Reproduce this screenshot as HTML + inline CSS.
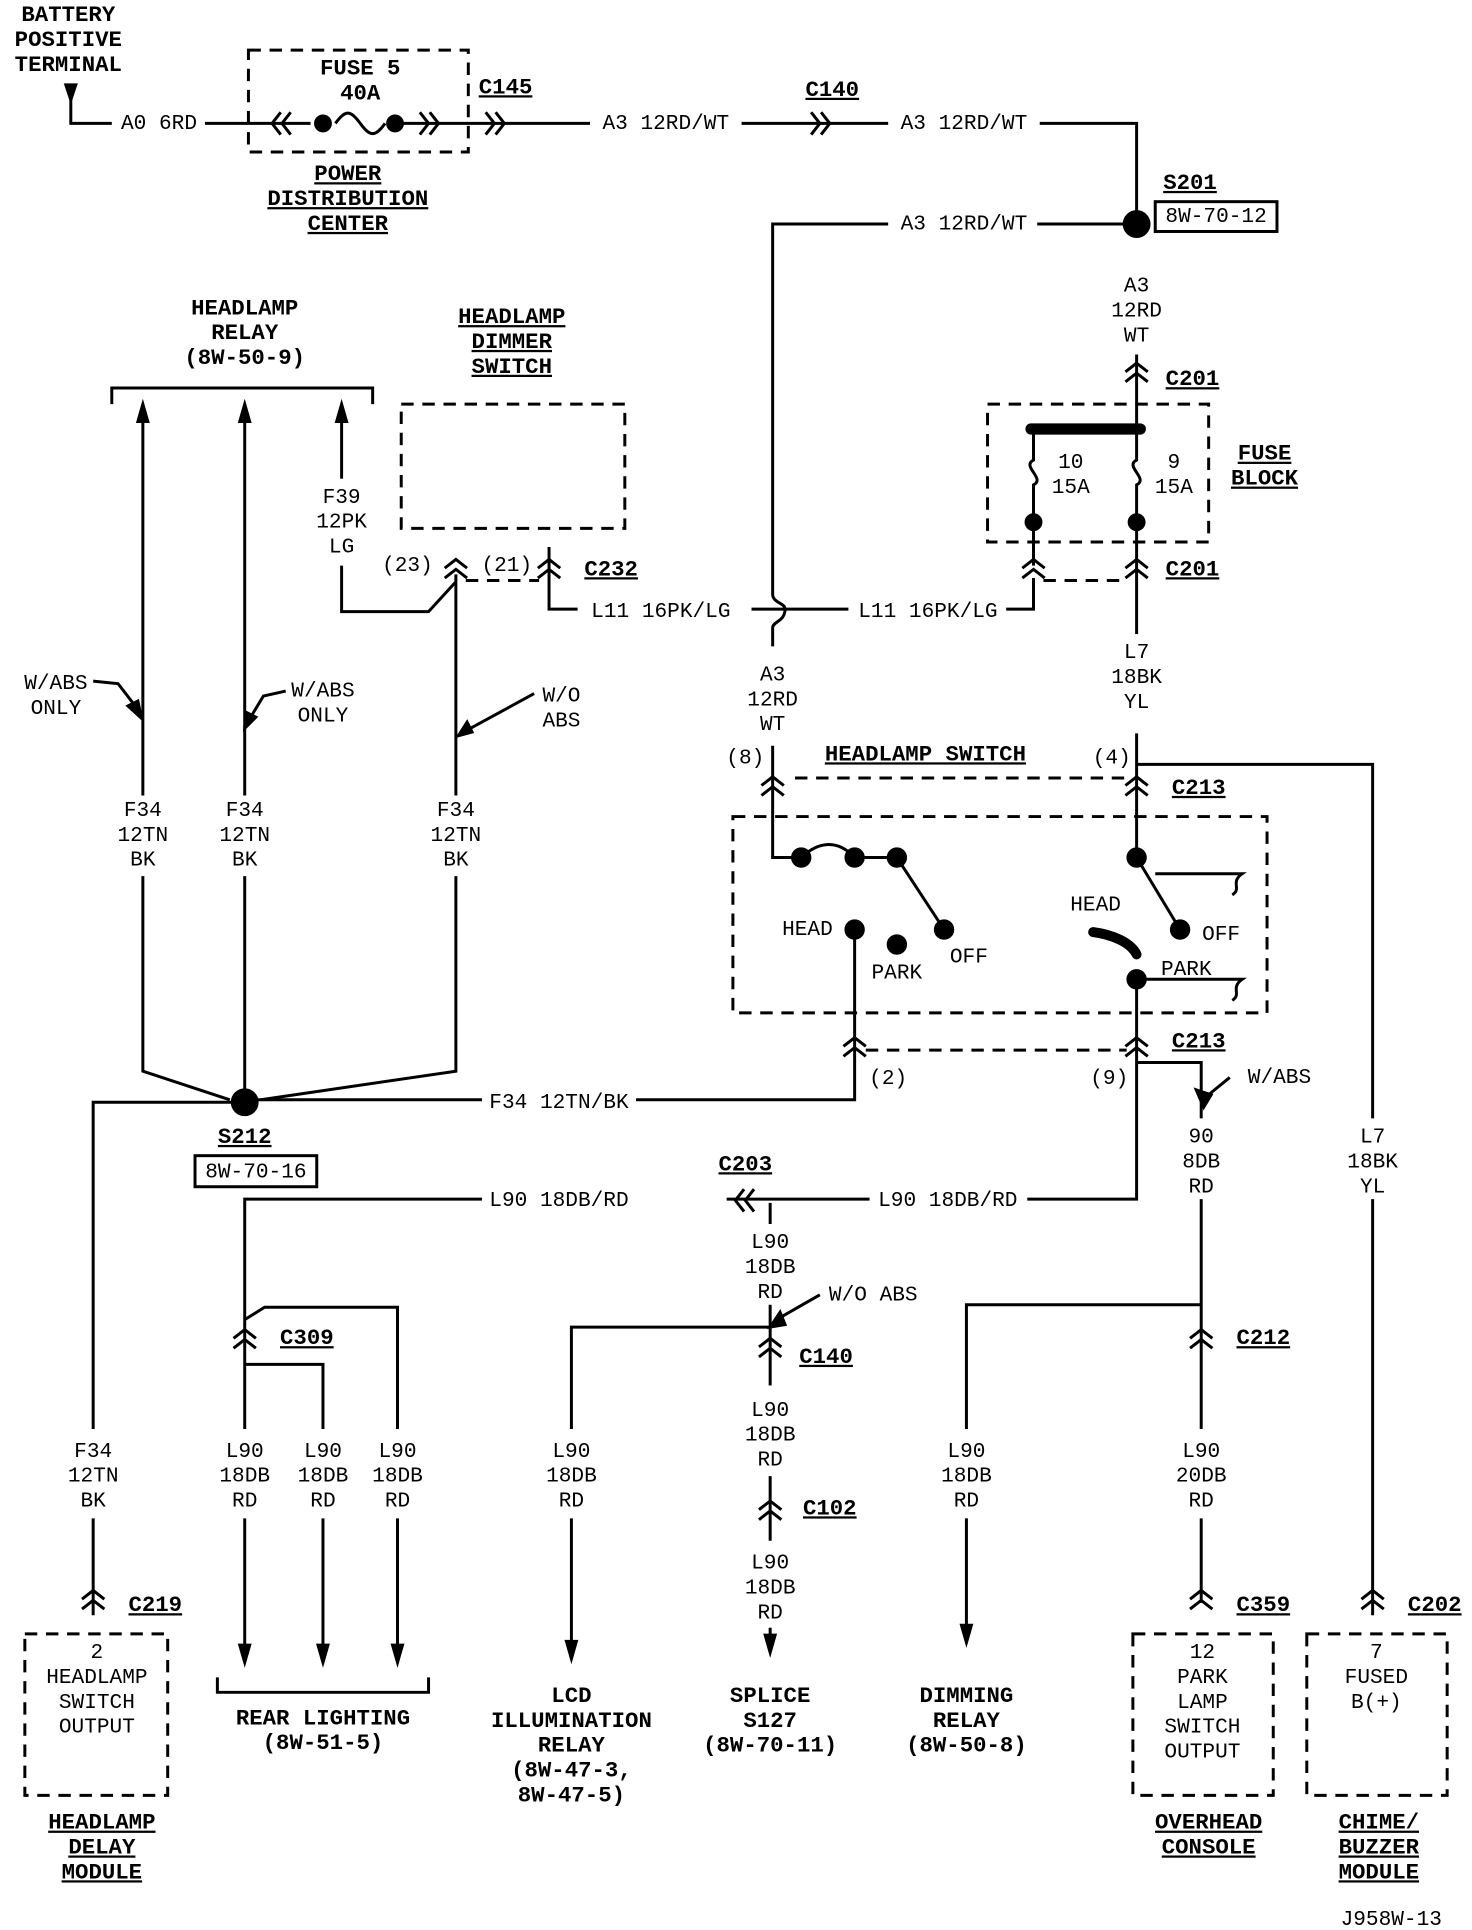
<!DOCTYPE html>
<html><head><meta charset="utf-8"><style>
html,body{margin:0;padding:0;background:#fff;width:1472px;height:1930px;overflow:hidden}
svg text{font-family:"Liberation Mono","DejaVu Sans Mono",monospace;font-size:17px;fill:#000;text-anchor:middle;dominant-baseline:middle}
.b{font-weight:bold;font-size:18px}
.u{text-decoration:underline}
</style></head><body>
<svg id="s" width="1472" height="1930" viewBox="0 0 1185 1553" xmlns="http://www.w3.org/2000/svg">
<g id="g" stroke="#000" stroke-width="2.4" fill="none"></g>
<g id="t"></g>
</svg>
<script>
const NS="http://www.w3.org/2000/svg",G=document.getElementById('g'),T=document.getElementById('t');
function el(p,tag,a){const e=document.createElementNS(NS,tag);for(const k in a)e.setAttribute(k,a[k]);p.appendChild(e);return e}
function P(d,extra){return el(G,'path',Object.assign({d:d},extra||{}))}
function dash(d){P(d,{'stroke-dasharray':'10,7'})}
function dot(x,y,r){el(G,'circle',{cx:x,cy:y,r:r||6,fill:'#000'})}
function tx(x,y,s,cls,anchor){const e=el(T,'text',{x:x,y:y});if(cls)e.setAttribute('class',cls);if(anchor)e.setAttribute('style','text-anchor:'+anchor);e.textContent=s;return e}
function stack(x,y,arr,cls){arr.forEach((s,i)=>tx(x,y+i*20,s,cls))}
function vc(x,y){P(`M${x-9},${y+2} L${x},${y-5} L${x+9},${y+2} M${x-9},${y+10} L${x},${y+3} L${x+9},${y+10}`)}
function hr(x,y){P(`M${x-7},${y-9} L${x},${y} L${x-7},${y+9} M${x+1},${y-9} L${x+8},${y} L${x+1},${y+9}`)}
function hl(x,y){P(`M${x+7},${y-9} L${x},${y} L${x+7},${y+9} M${x-1},${y-9} L${x-8},${y} L${x-1},${y+9}`)}
function arrUp(x,y){P(`M${x-4},${y+14} L${x},${y} L${x+4},${y+14} Z`,{fill:'#000'})}
function arrDn(x,y){P(`M${x-4},${y-14} L${x},${y} L${x+4},${y-14} Z`,{fill:'#000'})}

stack(55,12,['BATTERY','POSITIVE','TERMINAL'],'b');
P('M53,68 L57,80 L61,68 Z',{fill:'#000'});
P('M57,70 L57,99 L90,99');tx(128,99,'A0 6RD');
P('M165,99 L250,99');P('M270,99 C278,88 282,88 290,99 C298,110 302,110 310,99');P('M318,99 L475,99');
dash('M200,40 L377,40 L377,122 L200,122 Z');
tx(290,55,'FUSE 5','b');tx(290,75,'40A','b');
hl(227,99);dot(260,99);dot(318,99);hr(345,99);hr(398,99);
tx(407,70,'C145','b u');
stack(280,140,['POWER','DISTRIBUTION','CENTER'],'b u');
tx(536,99,'A3 12RD/WT');P('M597,99 L715,99');hr(660,99);tx(670,72,'C140','b u');
tx(776,99,'A3 12RD/WT');P('M837,99 L915,99 L915,180');
dot(915,180,10);tx(958,147,'S201','b u');el(G,'rect',{x:930,y:162,width:98,height:24});tx(979,174,'8W-70-12');
tx(776,180,'A3 12RD/WT');P('M835,180 L905,180');P('M715,180 L622,180 L622,478 C622,485 632,485 632,490 C632,500 622,500 622,505 L622,520');
stack(915,230,['A3','12RD','WT']);P('M915,285 L915,345');vc(915,297);tx(960,305,'C201','b u');
dash('M795,325 L973,325 L973,436 L795,436 Z');
P('M830,345 L918,345',{'stroke-width':9,'stroke-linecap':'round'});
P('M832,345 L832,370 C822,375 842,385 832,390 L832,455');
P('M915,345 L915,370 C905,375 925,385 915,390 L915,510');
stack(862,372,['10','15A']);stack(945,372,['9','15A']);dot(832,420);dot(915,420);
stack(1018,365,['FUSE','BLOCK'],'b u');
vc(832,455);vc(915,455);dash('M840,467 L907,467');tx(960,458,'C201','b u');
P('M832,465 L832,490 L810,490');tx(747,492,'L11 16PK/LG');P('M683,490 L605,490');tx(532,492,'L11 16PK/LG');P('M465,490 L442,490 L442,440');
stack(915,525,['L7','18BK','YL']);P('M915,590 L915,690');
stack(622,543,['A3','12RD','WT']);P('M622,600 L622,690 L645,690');
tx(600,610,'(8)');tx(895,610,'(4)');tx(745,607,'HEADLAMP SWITCH','b u');
vc(622,630);vc(915,630);dash('M640,626 L905,626');tx(965,634,'C213','b u');
P('M915,615 L1105,615 L1105,900');stack(1105,915,['L7','18BK','YL']);P('M1105,965 L1105,1300');vc(1105,1285);tx(1155,1292,'C202','b u');
dash('M590,657 L1020,657 L1020,815 L590,815 Z');
P('M645,690 C660,676 675,676 688,690 L722,690 L760,748');dot(645,690,7);dot(688,690,7);dot(722,690,7);dot(760,748,7);
tx(780,770,'OFF');tx(650,748,'HEAD');dot(688,748,7);dot(722,760,7);tx(722,783,'PARK');
P('M688,748 L688,885 L512,885');P('M388,885 L207,885');vc(688,840);
P('M915,690 L950,748');dot(915,690,7);dot(950,748,7);tx(983,752,'OFF');tx(882,728,'HEAD');
P('M880,750 C895,752 910,758 915,768',{'stroke-width':8,'stroke-linecap':'round'});dot(915,788,7);tx(955,780,'PARK');
P('M915,788 L1000,788 C990,795 1000,800 992,805');P('M930,703 L1000,703 C990,710 1000,715 992,720');
P('M915,788 L915,965 L827,965');vc(915,840);dash('M697,845 L907,845');tx(965,838,'C213','b u');
tx(715,868,'(2)');tx(893,868,'(9)');
P('M915,855 L967,855 L967,900');P('M990,867 L968,885');P('M969,891 L963,877 L975,881 Z',{fill:'#000'});tx(1030,867,'W/ABS',null);
stack(967,915,['90','8DB','RD']);P('M967,965 L967,1150');vc(967,1075);tx(1017,1077,'C212','b u');
stack(967,1168,['L90','20DB','RD']);P('M967,1222 L967,1290');vc(967,1285);tx(1017,1292,'C359','b u');
P('M967,1050 L778,1050 L778,1150');stack(778,1168,['L90','18DB','RD']);P('M778,1222 L778,1320');arrDn(778,1322);
stack(778,1365,['DIMMING','RELAY','(8W-50-8)'],'b');
dash('M912,1315 L1025,1315 L1025,1445 L912,1445 Z');stack(968,1330,['12','PARK','LAMP','SWITCH','OUTPUT']);
dash('M1052,1315 L1165,1315 L1165,1445 L1052,1445 Z');stack(1108,1330,['7','FUSED','B(+)']);
stack(973,1467,['OVERHEAD','CONSOLE'],'b u');stack(1110,1467,['CHIME/','BUZZER','MODULE'],'b u');
tx(1120,1545,'J958W-13');
tx(763,966,'L90 18DB/RD');P('M700,965 L585,965');hl(600,966);tx(600,937,'C203','b u');
tx(450,966,'L90 18DB/RD');P('M388,965 L197,965 L197,1150');P('M197,1222 L197,1325');arrDn(197,1338);
stack(620,1000,['L90','18DB','RD']);P('M620,968 L620,985');P('M620,1050 L620,1115');
P('M660,1042 L625,1062');P('M620,1068 L628,1056 L632,1066 Z',{fill:'#000'});tx(703,1042,'W/O ABS');
P('M620,1068 L460,1068 L460,1150');vc(620,1082);tx(665,1092,'C140','b u');
stack(460,1168,['L90','18DB','RD']);P('M460,1222 L460,1330');arrDn(460,1335);
stack(620,1135,['L90','18DB','RD']);P('M620,1188 L620,1240');vc(620,1213);tx(668,1214,'C102','b u');
stack(620,1258,['L90','18DB','RD']);P('M620,1310 L620,1322');arrDn(620,1330);
stack(620,1365,['SPLICE','S127','(8W-70-11)'],'b');
stack(460,1365,['LCD','ILLUMINATION','RELAY','(8W-47-3,','8W-47-5)'],'b');
vc(197,1075);tx(247,1077,'C309','b u');
P('M197,1062 L213,1052 L320,1052 L320,1150');P('M197,1098 L260,1098 L260,1150');
stack(197,1168,['L90','18DB','RD']);
[260,320].forEach(x=>{stack(x,1168,['L90','18DB','RD']);P(`M${x},1222 L${x},1325`);arrDn(x,1338)});
P('M175,1350 L175,1362 L345,1362 L345,1350');stack(260,1383,['REAR LIGHTING','(8W-51-5)'],'b');
stack(197,248,['HEADLAMP','RELAY','(8W-50-9)'],'b');P('M90,325 L90,312 L300,312 L300,325');
[115,197].forEach(x=>{arrUp(x,325);P(`M${x},335 L${x},640`);stack(x,652,['F34','12TN','BK']);});
arrUp(275,325);P('M275,335 L275,385');stack(275,400,['F39','12PK','LG']);P('M275,455 L275,492 L345,492 L367,468');
P('M115,705 L115,862 L185,885');P('M197,705 L197,877');P('M367,462 L367,640');stack(367,652,['F34','12TN','BK']);P('M367,705 L367,862 L210,885');
dot(197,887,10);tx(197,915,'S212','b u');el(G,'rect',{x:157,y:930,width:98,height:25});tx(206,943,'8W-70-16');
tx(450,887,'F34 12TN/BK');
stack(45,550,['W/ABS','ONLY']);P('M75,548 L95,550 L112,572');P('M114,578 L103,568 L111,564 Z',{fill:'#000'});
stack(260,556,['W/ABS','ONLY']);P('M230,556 L212,560 L200,580');P('M197,586 L198,573 L206,577 Z',{fill:'#000'});
stack(452,560,['W/O','ABS']);P('M430,558 L375,588');P('M369,592 L376,581 L380,589 Z',{fill:'#000'});
stack(412,255,['HEADLAMP','DIMMER','SWITCH'],'b u');dash('M323,325 L503,325 L503,425 L323,425 Z');
vc(367,455);vc(442,455);dash('M375,467 L434,467');tx(328,455,'(23)');tx(408,455,'(21)');tx(492,458,'C232','b u');
P('M187,887 L75,887 L75,1150');stack(75,1168,['F34','12TN','BK']);P('M75,1222 L75,1300');vc(75,1285);tx(125,1292,'C219','b u');
dash('M20,1315 L135,1315 L135,1445 L20,1445 Z');stack(78,1330,['2','HEADLAMP','SWITCH','OUTPUT']);
stack(82,1467,['HEADLAMP','DELAY','MODULE'],'b u');
</script>
</body></html>
